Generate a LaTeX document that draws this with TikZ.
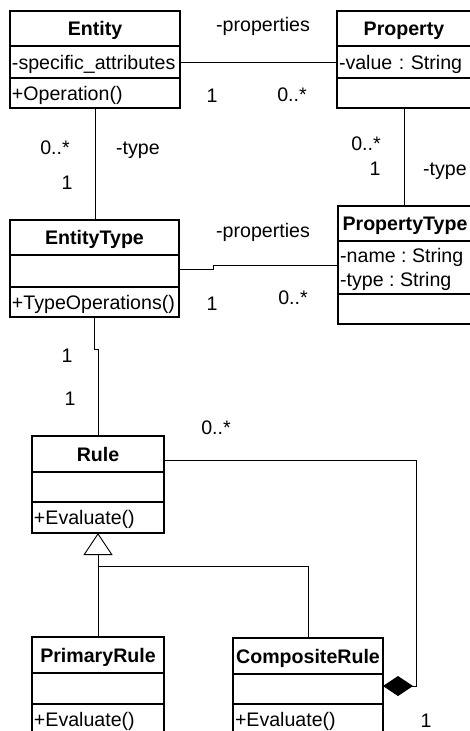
\documentclass[tikz,border=0pt]{standalone}
\usepackage{fontspec}
\setmainfont{Liberation Sans}
\usetikzlibrary{arrows.meta}
\frenchspacing
\begin{document}
\begin{tikzpicture}[x=1pt,y=-1pt,
  every node/.style={font=\fontsize{19.6}{23}\selectfont},
  comp/.style={draw, line width=1.3pt, anchor=north west, inner xsep=2pt, inner ysep=0pt,
    text height=14pt, text depth=0pt, align=left, outer sep=0pt},
  head/.style={comp, align=center, font=\fontsize{19.6}{23}\selectfont\bfseries},
  conn/.style={line width=0.9pt},
  lbl/.style={inner sep=0pt, text height=14pt, text depth=0pt}
]
\useasboundingbox (0,0) rectangle (469,731);

% Entity
\node[head, text width=166pt, minimum height=35pt] (ehead) at (10,11) {Entity};
\node[comp, text width=166pt, minimum height=32pt] (eattr) at (10,46) {-specific\_attributes};
\node[comp, text width=166pt, minimum height=30pt] (eops) at (10,78) {+Operation()};

% Property
\node[head, text width=130pt, minimum height=35pt] (phead) at (337,11) {Property};
\node[comp, text width=130pt, minimum height=32pt] (pattr) at (337,46) {-value : String};
\node[comp, text width=130pt, minimum height=30pt] (pops) at (337,78) {};

% EntityType
\node[head, text width=165pt, minimum height=35pt] (ethead) at (10,220) {EntityType};
\node[comp, text width=165pt, minimum height=32pt] (etattr) at (10,255) {};
\node[comp, text width=165pt, minimum height=30pt] (etops) at (10,287) {+TypeOperations()};

% PropertyType
\node[head, text width=130pt, minimum height=35pt] (pthead) at (338,206) {PropertyType};
\node[comp, text width=130pt, minimum height=53pt] (ptattr) at (338,241) {};
\node[lbl, anchor=west] (ptname) at (340,255) {-name : String};
\node[lbl, anchor=west] (pttype) at (340,279) {-type : String};
\node[comp, text width=130pt, minimum height=30pt] (ptops) at (338,294) {};

% Rule
\node[head, text width=128pt, minimum height=36pt] (rhead) at (32,436) {Rule};
\node[comp, text width=128pt, minimum height=30pt] (rattr) at (32,472) {};
\node[comp, text width=128pt, minimum height=31pt] (rops) at (32,502) {+Evaluate()};

% PrimaryRule
\node[head, text width=128pt, minimum height=36pt] (prhead) at (32,637) {PrimaryRule};
\node[comp, text width=128pt, minimum height=31pt] (prattr) at (32,673) {};
\node[comp, text width=128pt, minimum height=31pt] (props) at (32,704) {+Evaluate()};

% CompositeRule
\node[head, text width=146pt, minimum height=36pt] (crhead) at (233,638) {CompositeRule};
\node[comp, text width=146pt, minimum height=30pt] (crattr) at (233,674) {};
\node[comp, text width=146pt, minimum height=31pt] (crops) at (233,704) {+Evaluate()};

% connectors
\draw[conn] (eattr.east) -- (pattr.west);
\draw[conn] (eops.south) -- (eops.south |- ethead.north);
\draw[conn] (pops.south) -- (pops.south |- pthead.north);
\draw[conn] ([yshift=2pt]etattr.east) -- ++(34,0) |- ([yshift=2pt]ptattr.west);
\draw[conn] (etops.south) -- ++(0,32) -| (rhead.north);
\draw[conn, -{Triangle[open,length=22pt,width=29pt]}] (prhead.north) -- (rops.south);
\coordinate (gjoin) at ([yshift=-33pt]rops.south);
\draw[conn] (crhead.north) |- (gjoin);
\draw[conn, {Diamond[length=30pt,width=20pt]}-] ([yshift=3pt]crattr.east) -- ++(33,0) |- ([yshift=-6pt]rhead.east);

% labels
\node[lbl] (l1) at (263,24) {-properties};
\node[lbl] (l2) at (212,95) {1};
\node[lbl] (l3) at (292,94) {0..*};
\node[lbl] (l4) at (55,147) {0..*};
\node[lbl] (l5) at (138,147) {-type};
\node[lbl] (l6) at (67,182) {1};
\node[lbl] (l7) at (366,143) {0..*};
\node[lbl] (l8) at (375,168) {1};
\node[lbl] (l9) at (445,168) {-type};
\node[lbl] (l10) at (263,230) {-properties};
\node[lbl] (l11) at (212,303) {1};
\node[lbl] (l12) at (293,297) {0..*};
\node[lbl] (l13) at (67,355) {1};
\node[lbl] (l14) at (70,398) {1};
\node[lbl] (l15) at (216,427) {0..*};
\node[lbl] (l16) at (426,720) {1};
\end{tikzpicture}
\end{document}
